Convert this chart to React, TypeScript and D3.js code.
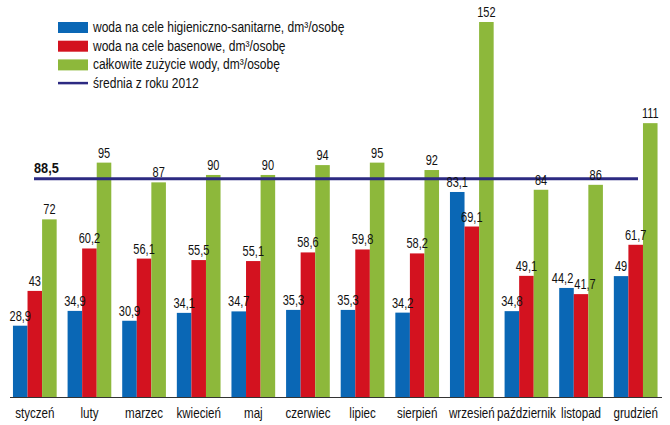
import React from 'react'
import * as d3 from 'd3'

const months = [
    'styczeń', 'luty', 'marzec', 'kwiecień', 'maj', 'czerwiec',
    'lipiec', 'sierpień', 'wrzesień', 'październik', 'listopad', 'grudzień',
]
const hygiene = [28.9, 34.9, 30.9, 34.1, 34.7, 35.3, 35.3, 34.2, 83.1, 34.8, 44.2, 49]
const pool = [43, 60.2, 56.1, 55.5, 55.1, 58.6, 59.8, 58.2, 69.1, 49.1, 41.7, 61.7]
const total = [72, 95, 87, 90, 90, 94, 95, 92, 152, 84, 86, 111]
const average2012 = 88.5

const seriesNames = [
    'woda na cele higieniczno-sanitarne, dm³/osobę',
    'woda na cele basenowe, dm³/osobę',
    'całkowite zużycie wody, dm³/osobę',
]
const averageName = 'średnia z roku 2012'

const colors = ['#0a67b5', '#d3121f', '#8db83b']
const lineColor = '#2c2a82'
const font = "'Liberation Sans', Arial, sans-serif"

const width = 670
const height = 425
const baseline = 397

const labelSize = 14.5
const labelSqueeze = 0.76

const fmt = (v: number) => String(v).replace('.', ',')

// no narrow font installed, so squeeze the text horizontally instead
const Narrow: React.FC<{
    x: number
    y: number
    size?: number
    anchor?: 'start' | 'middle' | 'end'
    bold?: boolean
    squeeze?: number
    children: React.ReactNode
}> = ({ x, y, size = 14, anchor = 'start', bold, squeeze = 0.8, children }) => (
    <text
        transform={`translate(${x},${y}) scale(${squeeze},1)`}
        fontSize={size}
        textAnchor={anchor}
        fontWeight={bold ? 'bold' : undefined}
    >
        {children}
    </text>
)

// rough width of a squeezed number label (digits ~0.556em, comma ~0.278em)
const labelWidth = (s: string) =>
    s.split('').reduce((w, c) => w + (c === ',' ? 0.278 : 0.556), 0) * labelSize * labelSqueeze

export default function App() {
    const series = [hygiene, pool, total]

    const x = d3.scaleBand<string>().domain(months).range([7.5, 663]).paddingInner(0.2).paddingOuter(0.1)
    const xs = d3.scaleBand<number>().domain([0, 1, 2]).range([0, x.bandwidth()])
    const y = d3.scaleLinear().domain([0, 152]).range([baseline, 22])

    const avgX0 = 34
    const avgX1 = 638

    // value label positions inside each group, pushed apart where neighbours sit at the same height
    const labels = months.map((_, i) => {
        const items = series.map((s, k) => ({
            text: fmt(s[i]),
            x: (xs(k) ?? 0) + xs.bandwidth() / 2,
            y: y(s[i]) - 5,
        }))
        for (let k = 0; k < items.length - 1; k++) {
            const a = items[k]
            const b = items[k + 1]
            if (Math.abs(a.y - b.y) > 12) continue
            const need = (labelWidth(a.text) + labelWidth(b.text)) / 2 + 1
            const gap = b.x - a.x
            if (gap < need) {
                const d = (need - gap) / 2
                a.x -= d
                b.x += d
            }
        }
        return items
    })

    return (
        <svg width={width} height={height} style={{ position: 'absolute', left: 0, top: 0, background: '#fff' }}>
            <g fontFamily={font} fill="#111">
                {/* bars */}
                {months.map((m, i) => (
                    <g key={m} transform={`translate(${x(m)},0)`}>
                        {series.map((s, k) => (
                            <rect
                                key={k}
                                x={xs(k)}
                                y={y(s[i])}
                                width={xs.bandwidth()}
                                height={baseline - y(s[i])}
                                fill={colors[k]}
                            />
                        ))}
                    </g>
                ))}

                {/* 2012 average line */}
                <line
                    x1={avgX0}
                    x2={avgX1}
                    y1={y(average2012)}
                    y2={y(average2012)}
                    stroke={lineColor}
                    strokeWidth={3}
                />
                <Narrow x={avgX0} y={y(average2012) - 6} size={15} bold squeeze={0.85}>
                    {fmt(average2012)}
                </Narrow>

                {/* value labels */}
                {months.map((m, i) => (
                    <g key={m} transform={`translate(${x(m)},0)`}>
                        {labels[i].map((l, k) => (
                            <Narrow key={k} x={l.x} y={l.y} anchor="middle" size={labelSize} squeeze={labelSqueeze}>
                                {l.text}
                            </Narrow>
                        ))}
                    </g>
                ))}

                {/* baseline */}
                <line x1={10} x2={662} y1={baseline + 0.5} y2={baseline + 0.5} stroke="#333" strokeWidth={1} />

                {/* month labels */}
                {months.map((m) => (
                    <Narrow key={m} x={(x(m) ?? 0) + x.bandwidth() / 2} y={418} anchor="middle" size={14.5}>
                        {m}
                    </Narrow>
                ))}

                {/* legend */}
                <g transform="translate(58,0)">
                    {seriesNames.map((name, k) => (
                        <g key={name} transform={`translate(0,${27 + k * 18.7})`}>
                            <rect x={0} y={-5} width={30} height={11} fill={colors[k]} />
                            <Narrow x={35} y={5} size={14.5} squeeze={0.83}>
                                {name}
                            </Narrow>
                        </g>
                    ))}
                    <g transform={`translate(0,${27 + 3 * 18.7})`}>
                        <line x1={0} x2={30} y1={0} y2={0} stroke={lineColor} strokeWidth={2.5} />
                        <Narrow x={35} y={5} size={14.5} squeeze={0.83}>
                            {averageName}
                        </Narrow>
                    </g>
                </g>
            </g>
        </svg>
    )
}
